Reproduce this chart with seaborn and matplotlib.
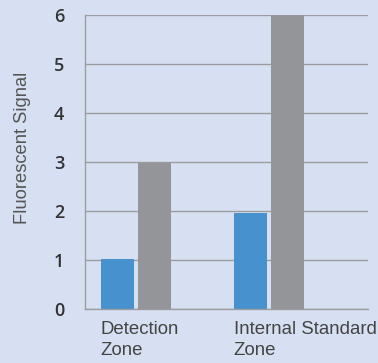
import pandas as pd
import seaborn as sns
import matplotlib.pyplot as plt

# values
zones = ["Detection\nZone", "Internal Standard\nZone"]
series = ["Sample", "Control"]
sample_vals = [1.02, 1.96]
control_vals = [2.97, 6.0]
y_ticks = [0, 1, 2, 3, 4, 5, 6]

bg = "#d7e0f2"
blue = "#4791cf"
gray = "#939598"
line_col = "#9b9c9f"

df = pd.DataFrame({
    "zone": zones * 2,
    "series": [series[0]] * 2 + [series[1]] * 2,
    "signal": sample_vals + control_vals,
})

sns.set_style("white")
plt.rcParams["font.family"] = ["Liberation Sans", "DejaVu Sans"]

fig = plt.figure(figsize=(3.78, 3.63), dpi=100, facecolor=bg)
ax = fig.add_axes([0.2249, 0.1488, 0.7487, 0.8099], facecolor=bg)

sns.barplot(data=df, x="zone", y="signal", hue="series", order=zones,
            hue_order=series, palette=[blue, gray], width=0.556, gap=0.11,
            saturation=1, legend=False, linewidth=0, ax=ax)

ax.set_ylim(0, 6)
ax.set_xlim(-0.383, 1.744)
ax.set_yticks(y_ticks)
ax.set_yticklabels([str(t) for t in y_ticks], family="Open Sans",
                   fontweight="semibold", fontsize=13, color="#333333")
ax.tick_params(axis="y", length=0, pad=15)
ax.yaxis.grid(True, color=line_col, linewidth=1)
ax.set_axisbelow(True)

ax.set_xticks([i - 0.265 for i in range(len(zones))])
ax.set_xticklabels(zones, ha="left", fontsize=13.4, color="#444444",
                   linespacing=1.3)
ax.tick_params(axis="x", length=0, pad=9)
ax.set_xlabel("")

ax.set_ylabel("Fluorescent Signal", fontsize=13.2, color="#555555")
ax.yaxis.set_label_coords(-0.19, 0.548)

for side in ["top", "right"]:
    ax.spines[side].set_visible(False)
for side in ["left", "bottom"]:
    ax.spines[side].set_color(line_col)
    ax.spines[side].set_linewidth(1)

fig.savefig("out.png", dpi=100, facecolor=bg)
